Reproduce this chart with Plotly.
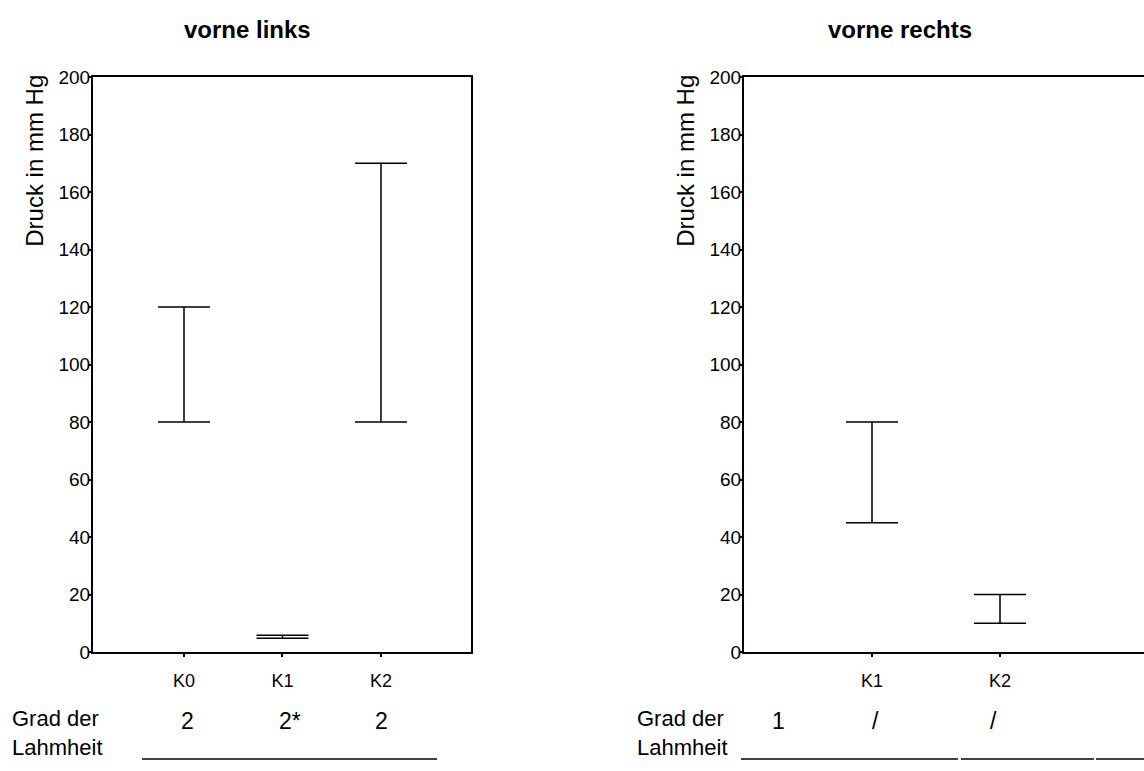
import plotly.graph_objects as go

W, H = 1144, 771

# ---- data ----
left_title = "vorne links"
right_title = "vorne rechts"
y_title = "Druck in mm Hg"

left_categories = ["K0", "K1", "K2"]
left_low = [80, 4.8, 80]
left_high = [120, 5.8, 170]

right_categories = ["K1", "K2"]
right_low = [45, 10]
right_high = [80, 20]

y_ticks = [0, 20, 40, 60, 80, 100, 120, 140, 160, 180, 200]

row_label = ["Grad der", "Lahmheit"]
left_grades = ["2", "2*", "2"]
right_grades = ["1", "/", "/"]

FONT = "Liberation Sans, Arial, sans-serif"


def px(x):
    return x / W


def py(y):
    return 1 - y / H


fig = go.Figure()


def add_range(cats, low, high, xa, ya):
    mid = [(a + b) / 2 for a, b in zip(low, high)]
    half = [(b - a) / 2 for a, b in zip(low, high)]
    fig.add_trace(go.Scatter(
        x=cats, y=mid, mode="markers", xaxis=xa, yaxis=ya,
        marker=dict(size=1, color="rgba(0,0,0,0)"),
        error_y=dict(type="data", array=half, symmetric=True,
                     color="black", thickness=1.5, width=26),
        showlegend=False, hoverinfo="skip"))


add_range(left_categories, left_low, left_high, "x", "y")
add_range(right_categories, right_low, right_high, "x2", "y2")

ydom = [py(660), py(69)]

axis_common = dict(showgrid=False, zeroline=False, showline=True,
                   linecolor="black", linewidth=2, ticks="outside",
                   ticklen=3, tickwidth=2, tickcolor="black")
xfont = dict(family=FONT, size=18, color="black")
yfont = dict(family=FONT, size=19, color="black")

fig.update_layout(
    width=W, height=H, margin=dict(l=0, r=0, t=0, b=0),
    paper_bgcolor="white", plot_bgcolor="white",
    xaxis=dict(domain=[px(93), px(471)], anchor="y", type="category",
               range=[-0.924, 2.914], mirror=True, ticklabelstandoff=8,
               tickfont=xfont, **axis_common),
    yaxis=dict(domain=ydom, anchor="x", range=[0, 200], tickvals=y_ticks,
               mirror=True, ticklabelstandoff=-6, tickfont=yfont, **axis_common),
    xaxis2=dict(domain=[px(744), 1.0], anchor="y2", type="category",
                range=[-1.0, 2.125], mirror=True, ticklabelstandoff=8,
                tickfont=xfont, **axis_common),
    yaxis2=dict(domain=ydom, anchor="x2", range=[0, 200], tickvals=y_ticks,
                mirror=False, ticklabelstandoff=-6, tickfont=yfont, **axis_common),
)

ann = []
tfont = dict(family=FONT, size=24, color="black")
# titles
ann.append(dict(x=px(247), y=py(20), xref="paper", yref="paper", text="<b>%s</b>" % left_title,
                showarrow=False, xanchor="center", yanchor="middle", font=tfont))
ann.append(dict(x=px(900), y=py(20), xref="paper", yref="paper", text="<b>%s</b>" % right_title,
                showarrow=False, xanchor="center", yanchor="middle", font=tfont))
# y titles
for xc in (35, 686):
    ann.append(dict(x=px(xc), y=py(155), xref="paper", yref="paper", text=y_title,
                    textangle=-90, showarrow=False, xanchor="center", yanchor="middle",
                    font=tfont))
# row labels
rfont = dict(family=FONT, size=22, color="black")
for xl in (10, 635):
    ann.append(dict(x=px(xl), y=py(743), xref="paper", yref="paper",
                    text="<br>".join(row_label), align="left",
                    showarrow=False, xanchor="left", yanchor="middle", font=rfont))
gfont = dict(family=FONT, size=23, color="black")
for g, xc in zip(left_grades, (187, 290, 381)):
    ann.append(dict(x=px(xc), y=py(731), xref="paper", yref="paper", text=g,
                    showarrow=False, xanchor="center", yanchor="middle", font=gfont))
for g, xc in zip(right_grades, (778, 875, 993)):
    ann.append(dict(x=px(xc), y=py(731), xref="paper", yref="paper", text=g,
                    showarrow=False, xanchor="center", yanchor="middle", font=gfont))
fig.update_layout(annotations=ann)

# table rule lines at bottom
shapes = []
for x0, x1 in ((142, 437), (741, 958), (961, 1094), (1096, 1144)):
    shapes.append(dict(type="line", xref="paper", yref="paper",
                       x0=px(x0), x1=px(x1), y0=py(770), y1=py(770),
                       line=dict(color="black", width=1.5)))
fig.update_layout(shapes=shapes)

fig.write_html("out.html")
